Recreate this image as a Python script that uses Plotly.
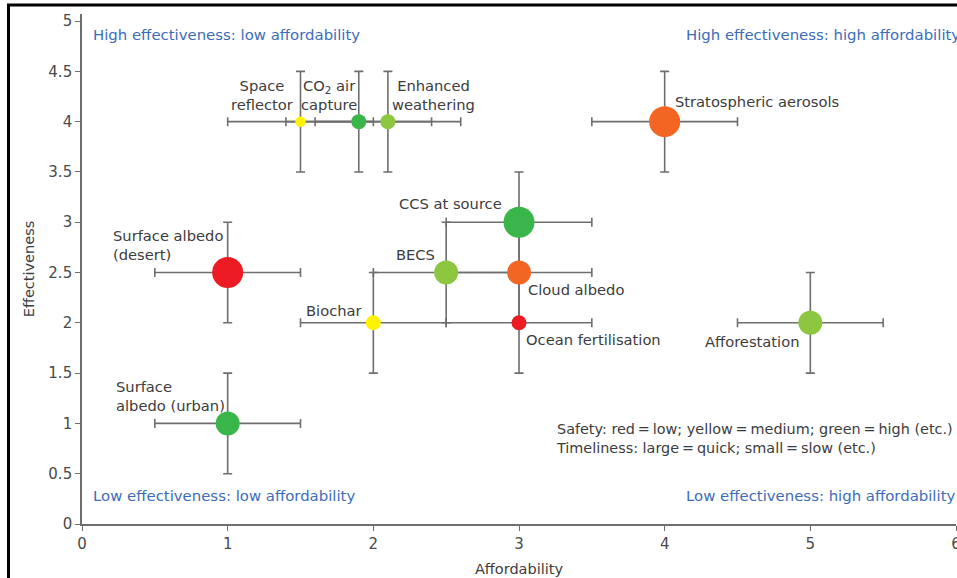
import plotly.graph_objects as go

# ---------------- data ----------------
names = ["Space reflector", "CO2 air capture", "Enhanced weathering",
         "Stratospheric aerosols", "CCS at source", "BECS", "Cloud albedo",
         "Ocean fertilisation", "Biochar", "Surface albedo (desert)",
         "Surface albedo (urban)", "Afforestation"]
affordability = [1.5, 1.9, 2.1, 4.0, 3.0, 2.5, 3.0, 3.0, 2.0, 1.0, 1.0, 5.0]
effectiveness = [4.0, 4.0, 4.0, 4.0, 3.0, 2.5, 2.5, 2.0, 2.0, 2.5, 1.0, 2.0]
afford_err = [0.5, 0.5, 0.5, 0.5, 0.5, 0.5, 0.5, 0.5, 0.5, 0.5, 0.5, 0.5]
effect_err = [0.5, 0.5, 0.5, 0.5, 0.5, 0.5, 0.5, 0.5, 0.5, 0.5, 0.5, 0.5]
safety = ["medium", "high", "medium-high", "medium-low", "high", "medium-high",
          "medium-low", "low", "medium", "low", "high", "medium-high"]
timeliness = [1, 2, 2, 4, 4, 3, 3, 2, 2, 4, 3, 3]

x_ticks = [0, 1, 2, 3, 4, 5, 6]
y_ticks = [0, 0.5, 1, 1.5, 2, 2.5, 3, 3.5, 4, 4.5, 5]
y_tick_text = ["0", "0.5", "1", "1.5", "2", "2.5", "3", "3.5", "4", "4.5", "5"]

quadrant_labels = ["High effectiveness: low affordability",
                   "High effectiveness: high affordability",
                   "Low effectiveness: low affordability",
                   "Low effectiveness: high affordability"]
legend_note = ["Safety: red\u2009=\u2009low; yellow\u2009=\u2009medium; green\u2009=\u2009high (etc.)",
               "Timeliness: large\u2009=\u2009quick; small\u2009=\u2009slow (etc.)"]

# ---------------- styles ----------------
safety_colors = {"low": "#ED1C24", "medium-low": "#F26522", "medium": "#FFF200",
                 "medium-high": "#8DC63F", "high": "#39B54A"}
timeliness_size = {1: 10.5, 2: 15, 3: 24, 4: 31}
GRAY = "#6e6e6e"
TXT = "#3c3c3c"
BLUE = "#3D6CB9"
FONT = "DejaVu Sans"
FS = 14.7

fig = go.Figure()

# error bars (drawn below markers)
fig.add_trace(go.Scatter(
    x=affordability, y=effectiveness, mode="markers",
    marker=dict(size=1, opacity=0),
    error_x=dict(type="data", array=afford_err, color=GRAY, thickness=1.6, width=4.5),
    error_y=dict(type="data", array=effect_err, color=GRAY, thickness=1.6, width=4.5),
    hoverinfo="skip", showlegend=False))

# markers
fig.add_trace(go.Scatter(
    x=affordability, y=effectiveness, mode="markers", text=names,
    marker=dict(size=[timeliness_size[t] for t in timeliness],
                color=[safety_colors[s] for s in safety],
                line=dict(width=0), opacity=1),
    showlegend=False))

# point labels: (text, x, y, xanchor)
labels = [
    ("Space<br>reflector", 1.236, 4.26, "center"),
    ("CO<sub>2</sub> air<br>capture", 1.696, 4.26, "center"),
    ("Enhanced<br>weathering", 2.41, 4.26, "center"),
    ("Stratospheric aerosols", 4.06, 4.205, "left"),
    ("CCS at source", 2.895, 3.19, "right"),
    ("BECS", 2.435, 2.684, "right"),
    ("Cloud albedo", 3.05, 2.336, "left"),
    ("Ocean fertilisation", 3.036, 1.839, "left"),
    ("Biochar", 1.94, 2.127, "right"),
    ("Surface albedo<br>(desert)", 0.2, 2.773, "left"),
    ("Surface<br>albedo (urban)", 0.22, 1.277, "left"),
    ("Afforestation", 4.265, 1.819, "left"),
]
for t, x, y, xa in labels:
    fig.add_annotation(x=x, y=y, text=t, showarrow=False, xanchor=xa, yanchor="middle",
                       align=xa if xa != "center" else "center",
                       font=dict(family=FONT, size=FS, color=TXT))

fig.add_annotation(x=3.238, y=0.85, text="<br>".join(legend_note), showarrow=False,
                   xanchor="left", yanchor="middle", align="left",
                   font=dict(family=FONT, size=14.4, color=TXT))

quad_pos = [(0.065, 4.861), (4.13, 4.861), (0.065, 0.278), (4.13, 0.278)]
for t, (x, y) in zip(quadrant_labels, quad_pos):
    fig.add_annotation(x=x, y=y, text=t, showarrow=False, xanchor="left", yanchor="middle",
                       font=dict(family=FONT, size=14.9, color=BLUE))

# outer frame (top + left)
W, H = 957, 578
L, R, T, B = 82, 1, 14, 54
pw, ph = W - L - R, H - T - B
def px(xp): return (xp - L) / pw
def py(yp): return (H - B - yp) / ph
fig.add_shape(type="path", xref="paper", yref="paper",
              path=f"M {px(8.5)} {py(590)} L {px(8.5)} {py(5)} L {px(970)} {py(5)}",
              line=dict(color="black", width=3))

fig.update_layout(
    width=W, height=H, margin=dict(l=L, r=R, t=T, b=B, autoexpand=False),
    paper_bgcolor="white", plot_bgcolor="white",
    font=dict(family=FONT, color=TXT),
    xaxis=dict(range=[0, 6.0], tickvals=x_ticks, showgrid=False, zeroline=False,
               automargin=False,
               showline=True, linecolor=GRAY, linewidth=1.6, ticks="outside",
               ticklen=5, tickcolor=GRAY, tickwidth=1.4, ticklabeloverflow="allow",
               tickfont=dict(family=FONT, size=15, color="#4a4a4a"),
               title=dict(text="Affordability", standoff=12,
                          font=dict(family=FONT, size=14.5, color=TXT))),
    yaxis=dict(range=[0, 5.07], tickvals=y_ticks, ticktext=y_tick_text, showgrid=False,
               automargin=False,
               zeroline=False, showline=True, linecolor=GRAY, linewidth=1.6,
               ticks="outside", ticklen=5, tickcolor=GRAY, tickwidth=1.4,
               tickfont=dict(family=FONT, size=15, color="#4a4a4a"),
               title=dict(text="Effectiveness", standoff=10,
                          font=dict(family=FONT, size=14.5, color=TXT))),
)

fig.write_html("out.html")
